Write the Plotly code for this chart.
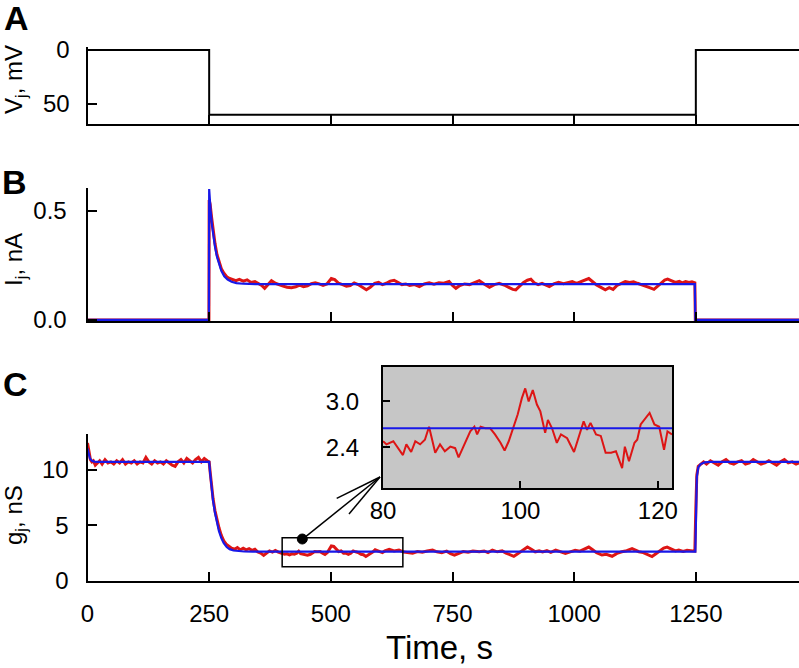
import plotly.graph_objects as go

# ---------------- data ----------------
# Panel A: junctional voltage protocol
vj_time = [0, 250, 250, 1250, 1250, 1462]
vj_mv = [0, 0, -60, -60, 0, 0]

# Panel B: junctional current, measured (red) and fitted (blue)
ij_time = [0, 249.5, 250, 252, 255, 258, 262, 266, 270, 275, 280, 286, 292, 298, 305, 312, 320, 328, 336,
           344, 352, 358, 364, 370, 378, 386, 394, 402, 410, 419, 428, 436, 444, 452, 460, 468, 476, 484,
           492, 501, 508, 516, 524, 532, 540, 548, 556, 564, 573, 581, 590, 598, 606, 614, 622, 630, 638,
           646, 654, 662, 672, 682, 692, 702, 712, 722, 732, 743, 750, 757, 765, 775, 785, 795, 805, 815,
           826, 836, 846, 856, 866, 874, 880, 888, 896, 904, 911, 918, 926, 934, 942, 949, 958, 968, 978,
           988, 996, 1005, 1014, 1022, 1030, 1038, 1046, 1056, 1064, 1072, 1080, 1088, 1096, 1105, 1114,
           1122, 1130, 1138, 1146, 1155, 1164, 1172, 1180, 1186, 1192, 1200, 1208, 1216, 1222, 1229, 1236,
           1242, 1248, 1249, 1462]
ij_meas = [0, 0, 0.55, 0.53, 0.47, 0.41, 0.35, 0.30, 0.265, 0.235, 0.215, 0.198, 0.19, 0.185, 0.18, 0.186,
           0.178, 0.184, 0.172, 0.176, 0.165, 0.158, 0.145, 0.16, 0.18, 0.168, 0.16, 0.155, 0.15, 0.148, 0.152,
           0.16, 0.152, 0.156, 0.166, 0.17, 0.165, 0.158, 0.165, 0.19, 0.185, 0.168, 0.162, 0.155, 0.158, 0.17,
           0.162, 0.152, 0.138, 0.15, 0.168, 0.172, 0.162, 0.168, 0.178, 0.182, 0.17, 0.162, 0.165, 0.158,
           0.162, 0.153, 0.165, 0.17, 0.164, 0.17, 0.168, 0.176, 0.158, 0.145, 0.158, 0.165, 0.162, 0.17, 0.18,
           0.165, 0.15, 0.162, 0.168, 0.16, 0.148, 0.14, 0.138, 0.155, 0.172, 0.182, 0.187, 0.17, 0.162, 0.168,
           0.16, 0.153, 0.165, 0.172, 0.166, 0.172, 0.176, 0.168, 0.175, 0.183, 0.19, 0.175, 0.16, 0.148, 0.138,
           0.148, 0.14, 0.158, 0.168, 0.176, 0.172, 0.175, 0.168, 0.162, 0.158, 0.148, 0.14, 0.155, 0.172,
           0.183, 0.187, 0.178, 0.172, 0.177, 0.17, 0.176, 0.172, 0.175, 0.17, 0, 0]
ij_fit_time = [0, 249.5, 250, 251, 253, 256, 259, 262, 266, 270, 275, 281, 288, 296, 306, 320, 345, 1248,
               1249, 1462]
ij_fit = [0, 0, 0.6, 0.56, 0.5, 0.43, 0.38, 0.335, 0.29, 0.255, 0.225, 0.2, 0.185, 0.175, 0.169, 0.166,
          0.164, 0.164, 0, 0]

# Panel C: junctional conductance, measured (red) and fitted (blue)
gj_time = [0, 2, 4, 6, 9, 12, 16, 20, 25, 30, 36, 42, 48, 54, 60, 66, 72, 78, 84, 90, 96, 102, 108, 114,
           120, 126, 132, 138, 144, 150, 156, 162, 168, 174, 180, 186, 192, 198, 204, 210, 216, 222, 228,
           234, 240, 246, 250,
           252, 255, 258, 262, 266, 270, 275, 280, 285, 290, 296, 302, 308, 314, 320, 326, 332, 338, 344,
           350, 356, 362, 368, 374, 380, 386, 392, 398,
           400, 405, 410, 415, 420, 425, 430, 434, 438, 442, 447, 452, 458, 463, 467, 472, 478, 484, 488,
           493, 497, 501, 506, 511, 516, 521, 526, 530, 536, 541, 546, 551, 556, 562, 567, 572, 576, 580,
           586, 591, 596, 601, 606, 611,
           620, 630, 640, 650, 660, 668, 678, 688, 698, 709, 718, 728, 738, 746, 754, 762, 772, 782, 792,
           805, 815, 823, 832, 842, 852, 860, 868, 876, 884, 892, 898, 904, 912, 920, 928, 935, 944, 952,
           962, 972, 982, 992, 1002, 1012, 1022, 1030, 1038, 1046, 1057, 1066, 1078, 1088, 1098, 1108,
           1119, 1126, 1133, 1142, 1150, 1160, 1168, 1176, 1184, 1191, 1200, 1208, 1215, 1224, 1232, 1242,
           1248,
           1250, 1252, 1255, 1260, 1266, 1272, 1280, 1288, 1296, 1304, 1312, 1320, 1328, 1336, 1344, 1352,
           1360, 1368, 1376, 1384, 1392, 1400, 1408, 1416, 1424, 1432, 1440, 1448, 1456, 1462]
gj_meas = [12.4, 11.8, 11.2, 10.9, 10.7, 10.8, 10.4, 10.6, 10.8, 10.5, 10.9, 10.6, 10.7, 10.5, 10.8, 10.6,
           10.9, 10.5, 10.7, 10.6, 10.8, 10.5, 10.7, 10.6, 11.1, 10.7, 10.5, 10.8, 10.6, 10.7, 10.5, 10.8,
           10.6, 10.4, 10.3, 10.7, 10.9, 10.6, 11.0, 10.8, 10.6, 10.9, 11.1, 10.7, 11.0, 10.8, 10.7,
           9.8, 8.4, 7.4, 6.3, 5.4, 4.8, 4.1, 3.6, 3.3, 3.1, 2.95, 2.85, 3.0, 2.8, 2.95, 2.8, 2.9, 2.75,
           2.85, 2.6, 2.5, 2.3, 2.5, 2.7, 2.6, 2.75, 2.6, 2.5,
           2.48, 2.40, 2.44, 2.34, 2.44, 2.40, 2.50, 2.67, 2.45, 2.40, 2.40, 2.32, 2.40, 2.58, 2.65, 2.62,
           2.64, 2.48, 2.38, 2.55, 2.80, 3.15, 3.10, 2.90, 2.65, 2.70, 2.50, 2.52, 2.40, 2.50, 2.70, 2.62,
           2.56, 2.40, 2.36, 2.20, 2.30, 2.40, 2.60, 2.80, 2.72, 2.60, 2.55, 2.70,
           2.84, 2.70, 2.78, 2.60, 2.55, 2.50, 2.65, 2.58, 2.70, 2.78, 2.62, 2.55, 2.68, 2.45, 2.33, 2.50,
           2.65, 2.58, 2.70, 2.63, 2.70, 2.55, 2.78, 2.62, 2.70, 2.50, 2.35, 2.22, 2.45, 2.70, 2.90, 3.05,
           2.85, 2.62, 2.70, 2.60, 2.72, 2.58, 2.78, 2.65, 2.48, 2.62, 2.75, 2.68, 2.90, 3.05, 2.80, 2.55,
           2.33, 2.40, 2.22, 2.48, 2.62, 2.72, 2.90, 2.75, 2.63, 2.55, 2.40, 2.20, 2.45, 2.70, 2.95, 3.05,
           2.85, 2.70, 2.78, 2.65, 2.75, 2.72, 2.68,
           6.5, 9.5, 10.3, 10.5, 10.7, 10.5, 10.8, 10.6, 10.4, 10.7, 10.9, 10.6, 10.5, 10.7, 10.8, 10.5,
           10.6, 10.9, 10.7, 10.5, 10.6, 10.8, 10.6, 10.4, 10.7, 10.9, 10.6, 10.7, 10.5, 10.6]
gj_fit_time = [0, 2, 5, 9, 14, 20, 250, 252, 255, 258, 262, 266, 270, 275, 280, 286, 292, 300, 310, 322,
               340, 370, 1249, 1250, 1252, 1255, 1260, 1268, 1280, 1462]
gj_fit = [11.9, 11.4, 11.0, 10.8, 10.72, 10.7, 10.7, 9.7, 8.3, 7.2, 6.1, 5.2, 4.5, 3.85, 3.4, 3.05, 2.86,
          2.74, 2.68, 2.65, 2.64, 2.63, 2.63, 6.5, 9.3, 10.2, 10.5, 10.65, 10.7, 10.7]

# Inset: expanded segment of the conductance record
inset_time = [80.0, 80.5, 81.5, 82.2, 82.9, 83.4, 84.1, 84.7, 85.4, 86.1, 86.7, 87.1, 87.6, 88.3, 89.0,
              89.8, 90.5, 91.0, 91.5, 92.2, 92.7, 93.3, 93.7, 94.2, 94.9, 95.6, 96.3, 97.1, 97.7, 98.3,
              99.0, 99.6, 100.2, 100.7, 101.2, 101.8, 102.4, 102.9, 103.6, 104.0, 104.6, 105.3, 105.9,
              106.8, 107.8, 108.5, 109.2, 109.7, 110.2, 111.0, 111.7, 112.4, 113.2, 113.9, 114.4, 114.8,
              115.2, 115.8, 116.6, 117.0, 117.5, 118.2, 118.8, 119.5, 120.2, 120.9, 121.4, 122.06]
inset_g = [2.48, 2.44, 2.48, 2.39, 2.30, 2.44, 2.34, 2.48, 2.44, 2.50, 2.67, 2.52, 2.33, 2.44, 2.35,
           2.41, 2.39, 2.27, 2.37, 2.50, 2.61, 2.67, 2.57, 2.67, 2.65, 2.65, 2.57, 2.46, 2.36, 2.48,
           2.67, 2.83, 3.04, 3.17, 3.00, 3.15, 2.96, 2.87, 2.59, 2.76, 2.65, 2.46, 2.57, 2.52, 2.34,
           2.55, 2.74, 2.63, 2.72, 2.57, 2.55, 2.33, 2.33, 2.35, 2.22, 2.13, 2.41, 2.22, 2.46, 2.50,
           2.70, 2.78, 2.85, 2.70, 2.67, 2.37, 2.61, 2.57]
inset_fit_time = [80, 122.06]
inset_fit = [2.65, 2.65]

# Zoomed region marked in panel C (time, conductance)
zoom_box_t = [400, 648]
zoom_box_g = [1.28, 3.88]

# tick labels
time_ticks = [0, 250, 500, 750, 1000, 1250]
vj_tickvals = [0, -50]
vj_ticktext = ["0", "50"]

# ---------------- styling helpers ----------------
W, H = 799, 668
FONT = "Liberation Sans, Arial, Helvetica, sans-serif"
RED = "#dd1515"
BLUE = "#1818e8"


def px(x):
    return x / W


def py(y):
    return 1 - y / H


fig = go.Figure()

fig.add_trace(go.Scatter(x=vj_time, y=vj_mv, mode="lines", line=dict(color="black", width=2),
                         xaxis="x", yaxis="y", showlegend=False))
fig.add_trace(go.Scatter(x=ij_time, y=ij_meas, mode="lines", line=dict(color=RED, width=3),
                         xaxis="x2", yaxis="y2", showlegend=False))
fig.add_trace(go.Scatter(x=ij_fit_time, y=ij_fit, mode="lines", line=dict(color=BLUE, width=2.2),
                         xaxis="x2", yaxis="y2", showlegend=False))
fig.add_trace(go.Scatter(x=gj_time, y=gj_meas, mode="lines", line=dict(color=RED, width=3),
                         xaxis="x3", yaxis="y3", showlegend=False))
fig.add_trace(go.Scatter(x=gj_fit_time, y=gj_fit, mode="lines", line=dict(color=BLUE, width=2.2),
                         xaxis="x3", yaxis="y3", showlegend=False))
fig.add_trace(go.Scatter(x=inset_time, y=inset_g, mode="lines", line=dict(color=RED, width=2),
                         xaxis="x4", yaxis="y4", showlegend=False))
fig.add_trace(go.Scatter(x=inset_fit_time, y=inset_fit, mode="lines", line=dict(color=BLUE, width=2),
                         xaxis="x4", yaxis="y4", showlegend=False))

axis_common = dict(showline=True, linecolor="black", linewidth=2, ticks="inside",
                   tickwidth=2, tickcolor="black", showgrid=False, zeroline=False,
                   tickfont=dict(family=FONT, size=24, color="black"), automargin=False)

xdom = [px(87.5), 1]
xrange = [0, 1462]

fig.update_layout(
    width=W, height=H,
    margin=dict(l=0, r=0, t=0, b=0),
    paper_bgcolor="white", plot_bgcolor="rgba(0,0,0,0)",
    showlegend=False,
    xaxis=dict(domain=xdom, range=xrange, tickvals=time_ticks, showticklabels=False,
               anchor="y", ticklen=9, **axis_common),
    yaxis=dict(domain=[py(124), py(47)], range=[-68.5, 2.8], tickvals=vj_tickvals,
               ticktext=vj_ticktext, anchor="x", ticklen=9, ticklabelstandoff=11, **axis_common),
    xaxis2=dict(domain=xdom, range=xrange, tickvals=time_ticks, showticklabels=False,
                anchor="y2", ticklen=9, **axis_common),
    yaxis2=dict(domain=[py(321), py(188)], range=[-0.005, 0.605], tickvals=[0, 0.5],
                ticktext=["0.0", "0.5"], anchor="x2", ticklen=9, ticklabelstandoff=14, **axis_common),
    xaxis3=dict(domain=xdom, range=xrange, tickvals=time_ticks, anchor="y3", ticklen=9,
                ticklabelstandoff=10, **axis_common),
    yaxis3=dict(domain=[py(581), py(434)], range=[0, 13.2], tickvals=[0, 5, 10], anchor="x3",
                ticklen=9, ticklabelstandoff=12, **axis_common),
    xaxis4=dict(domain=[px(383), px(672)], range=[80, 122.06], tickvals=[80, 100, 120],
                anchor="y4", mirror=True, ticklen=7, ticklabelstandoff=0, **axis_common),
    yaxis4=dict(domain=[py(488), py(367)], range=[1.87, 3.45], tickvals=[2.4, 3.0],
                ticktext=["2.4", "3.0"], anchor="x4", mirror=True, ticklen=7, ticklabelstandoff=17,
                **axis_common),
)

shapes = []
# grey inset background
shapes.append(dict(type="rect", xref="x4 domain", yref="y4 domain", x0=0, x1=1, y0=0, y1=1,
                   fillcolor="#c6c6c6", line=dict(width=0), layer="below"))
# zoom box in panel C
shapes.append(dict(type="rect", xref="x3", yref="y3", x0=zoom_box_t[0], x1=zoom_box_t[1],
                   y0=zoom_box_g[0], y1=zoom_box_g[1], line=dict(color="black", width=1.5)))
# callout arrow (dot -> inset corner) with open arrowhead
line_style = dict(color="black", width=1.5)
shapes.append(dict(type="line", xref="paper", yref="paper", x0=px(302.3), y0=py(539.3),
                   x1=px(380), y1=py(477), line=line_style))
shapes.append(dict(type="line", xref="paper", yref="paper", x0=px(380), y0=py(477),
                   x1=px(336.7), y1=py(498.3), line=line_style))
shapes.append(dict(type="line", xref="paper", yref="paper", x0=px(380), y0=py(477),
                   x1=px(349), y1=py(514), line=line_style))
shapes.append(dict(type="circle", xref="paper", yref="paper", x0=px(297.3), x1=px(307.3),
                   y0=py(544), y1=py(534), fillcolor="black", line=dict(color="black", width=1)))
fig.update_layout(shapes=shapes)

annotations = []
for label, x, y in [("A", 16, 18), ("B", 14, 182), ("C", 15, 384)]:
    annotations.append(dict(text=f"<b>{label}</b>", x=px(x), y=py(y), xref="paper", yref="paper",
                            showarrow=False, xanchor="center", yanchor="middle",
                            font=dict(family=FONT, size=34, color="black")))
for label, y in [("V<sub>j</sub>, mV", 80), ("I<sub>j</sub>, nA", 260), ("g<sub>j</sub>, nS", 515)]:
    annotations.append(dict(text=label, x=px(15), y=py(y), xref="paper", yref="paper",
                            showarrow=False, textangle=-90, xanchor="center", yanchor="middle",
                            font=dict(family=FONT, size=24, color="black")))
annotations.append(dict(text="Time, s", x=px(439), y=py(647), xref="paper", yref="paper",
                        showarrow=False, xanchor="center", yanchor="middle",
                        font=dict(family=FONT, size=33, color="black")))
fig.update_layout(annotations=annotations)

# remove the page's default 8px body margin so the figure sits at the window's origin
fig.write_html("out.html", config={"displayModeBar": False},
               post_script="document.body.style.margin='0px';")
